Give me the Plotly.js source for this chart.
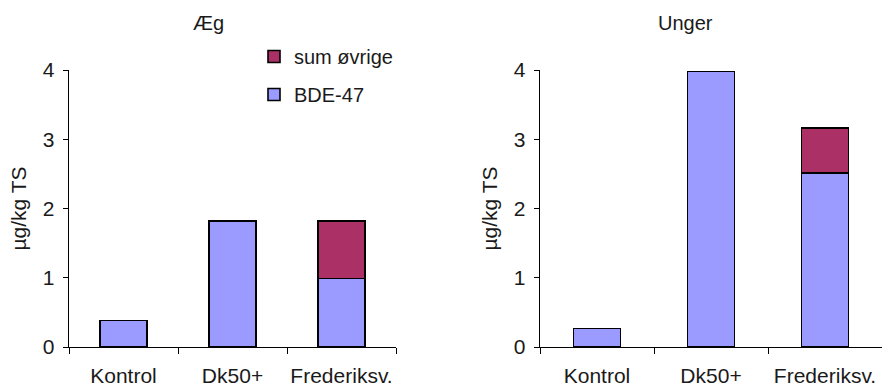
<!DOCTYPE html>
<html>
<head>
<meta charset="utf-8">
<script src="https://cdn.plot.ly/plotly-3.0.1.min.js"></script>
<style>
  html, body { margin: 0; padding: 0; background: #fff; }
  #chart { width: 883px; height: 390px; }
</style>
</head>
<body>
<div id="chart"></div>
<script>
// Categories and stacked values (µg/kg TS)
const categories = ["Kontrol", "Dk50+", "Frederiksv."];
const eggBDE47 = [0.38, 1.82, 0.99];
const eggOther = [0, 0, 0.83];
const chickBDE47 = [0.27, 3.98, 2.51];
const chickOther = [0, 0, 0.65];
const panelTitles = ["Æg", "Unger"];
const yTitle = "µg/kg TS";
const seriesNames = ["BDE-47", "sum øvrige"];

const blue = "#9a9aff";
const plum = "#ab3066";
const ink = "#1a1a1a";
const fontFam = "Liberation Sans, Arial, sans-serif";

// rank puts the upper stack segment first in the legend
function barTrace(vals, name, color, xa, ya, showLegend, w, rank) {
  return {
    type: "bar", x: categories, y: vals, name: name,
    xaxis: xa, yaxis: ya, width: w,
    legendgroup: name, legendrank: rank, showlegend: showLegend,
    marker: { color: color, line: { color: "#000", width: 1.6 } },
    hoverinfo: "x+y+name"
  };
}

const data = [
  barTrace(eggBDE47, seriesNames[0], blue, "x", "y", true, 0.43, 2),
  barTrace(eggOther, seriesNames[1], plum, "x", "y", true, 0.43, 1),
  barTrace(chickBDE47, seriesNames[0], blue, "x2", "y2", false, 0.41, 2),
  barTrace(chickOther, seriesNames[1], plum, "x2", "y2", false, 0.41, 1)
];

const yDomain = [1 - 347 / 390, 1 - 70 / 390];

function xAxis(domain, anchor) {
  return {
    domain: domain, anchor: anchor, type: "category",
    range: [-0.5, 2.5], showline: true, linecolor: "#000", linewidth: 1.3,
    ticks: "outside", tickson: "boundaries", ticklen: 6, tickcolor: "#000",
    tickangle: 0, ticklabelstandoff: 9,
    tickfont: { family: fontFam, size: 21, color: ink },
    showgrid: false, zeroline: false, fixedrange: true
  };
}
function yAxis(domain, anchor) {
  return {
    domain: domain, anchor: anchor, range: [0, 4], dtick: 1,
    showline: true, linecolor: "#000", linewidth: 1.3,
    ticks: "outside", ticklen: 5, tickcolor: "#000",
    ticklabelstandoff: 4,
    tickfont: { family: fontFam, size: 21, color: ink },
    title: { text: yTitle, font: { family: fontFam, size: 21, color: ink }, standoff: 10 },
    showgrid: false, zeroline: false, fixedrange: true
  };
}

const layout = {
  width: 883, height: 390,
  margin: { l: 0, r: 0, t: 0, b: 0 },
  paper_bgcolor: "#fff", plot_bgcolor: "#fff",
  barmode: "stack",
  showlegend: true,
  font: { family: fontFam, color: ink },
  xaxis: xAxis([69 / 883, 396 / 883], "y"),
  yaxis: yAxis(yDomain, "x"),
  xaxis2: xAxis([540 / 883, 882 / 883], "y2"),
  yaxis2: yAxis(yDomain, "x2"),
  legend: {
    x: 254 / 883, y: 1 - 37 / 390, xanchor: "left", yanchor: "top",
    traceorder: "grouped", tracegroupgap: 9,
    font: { family: fontFam, size: 20, color: ink },
    bgcolor: "rgba(0,0,0,0)", itemwidth: 30
  },
  annotations: [
    { text: panelTitles[0], x: 208 / 883, y: 1 - 23 / 390, xref: "paper", yref: "paper",
      xanchor: "center", yanchor: "middle",
      showarrow: false, font: { family: fontFam, size: 20, color: ink } },
    { text: panelTitles[1], x: 685 / 883, y: 1 - 23 / 390, xref: "paper", yref: "paper",
      xanchor: "center", yanchor: "middle",
      showarrow: false, font: { family: fontFam, size: 20, color: ink } }
  ]
};

Plotly.newPlot("chart", data, layout, { displayModeBar: false, staticPlot: true });
</script>
</body>
</html>
